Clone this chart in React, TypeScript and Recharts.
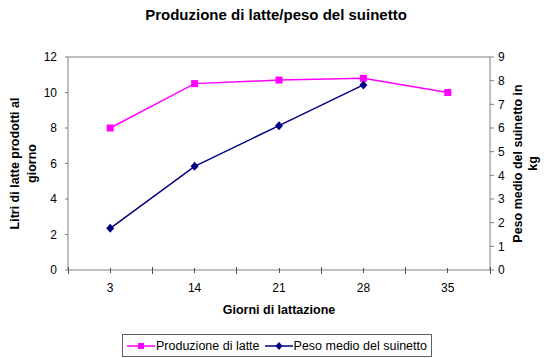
import { LineChart, Line, XAxis, YAxis, Legend, ReferenceLine } from 'recharts';

const giorni = ['3', '14', '21', '28', '35'];
const produzioneLatte = [8, 10.5, 10.7, 10.8, 10];
const pesoSuinetto = [1.76, 4.38, 6.1, 7.82, null];
const ticksLitri = [0, 2, 4, 6, 8, 10, 12];
const ticksPeso = [0, 1, 2, 3, 4, 5, 6, 7, 8, 9];

const data = giorni.map((g, i) => ({
  giorno: g,
  latte: produzioneLatte[i],
  peso: pesoSuinetto[i],
}));

const font = '"Liberation Sans", Arial, sans-serif';
const MAGENTA = '#ff00ff';
const NAVY = '#000080';
const AXIS = '#808080';
const TICK = '#505050';

const PLOT_W = 422;
const HALF_BAND = PLOT_W / giorni.length / 2;

const Square = (props: any) => {
  const { cx, cy, index } = props;
  if (cx == null || cy == null) return <g key={index} />;
  return <rect key={index} x={cx - 3.5} y={cy - 3.5} width={7} height={7} fill={MAGENTA} />;
};

const Diamond = (props: any) => {
  const { cx, cy, index, value } = props;
  if (cx == null || cy == null || value == null) return <g key={index} />;
  return (
    <polygon
      key={index}
      points={`${cx},${cy - 4.5} ${cx + 4},${cy} ${cx},${cy + 4.5} ${cx - 4},${cy}`}
      fill={NAVY}
    />
  );
};

// Excel puts tick marks both on the categories and between them
const GiornoTick = (props: any) => {
  const { x, y, payload, index } = props;
  return (
    <g shapeRendering="crispEdges">
      <line x1={x} x2={x} y1={y - 2} y2={y + 3} stroke={TICK} />
      <line x1={x - HALF_BAND} x2={x - HALF_BAND} y1={y - 3} y2={y + 4} stroke={TICK} />
      {index === giorni.length - 1 && (
        <line x1={x + HALF_BAND} x2={x + HALF_BAND} y1={y - 3} y2={y + 4} stroke={TICK} />
      )}
      <text x={x} y={y} dy={22} textAnchor="middle" fontSize={12} fontFamily={font} fill="#000">
        {payload.value}
      </text>
    </g>
  );
};

const titleStyle = { textAnchor: 'middle' as const, fontSize: 12.5, fontWeight: 'bold', fontFamily: font, fill: '#000' };

const LeftTitle = (props: any) => {
  const { viewBox } = props;
  const cy = viewBox.y + viewBox.height / 2;
  const x1 = viewBox.x + 15;
  const x2 = viewBox.x + 32;
  return (
    <g>
      <text x={x1} y={cy} dy={4} transform={`rotate(-90 ${x1} ${cy})`} {...titleStyle}>
        Litri di latte prodotti al
      </text>
      <text x={x2} y={cy} dy={4} transform={`rotate(-90 ${x2} ${cy})`} {...titleStyle}>
        giorno
      </text>
    </g>
  );
};

const RightTitle = (props: any) => {
  const { viewBox } = props;
  const cy = viewBox.y + viewBox.height / 2;
  const x1 = viewBox.x + 28;
  const x2 = viewBox.x + 43;
  return (
    <g>
      <text x={x1} y={cy} dy={4} transform={`rotate(-90 ${x1} ${cy})`} {...titleStyle}>
        Peso medio del suinetto in
      </text>
      <text x={x2} y={cy} dy={4} transform={`rotate(-90 ${x2} ${cy})`} {...titleStyle}>
        kg
      </text>
    </g>
  );
};

const LegendBox = () => (
  <div
    style={{
      border: '1px solid #606060',
      display: 'flex',
      alignItems: 'center',
      boxSizing: 'border-box',
      width: 310,
      height: 23,
      padding: '0 4px',
      fontFamily: font,
      fontSize: 12.5,
      color: '#000',
      background: '#fff',
      whiteSpace: 'nowrap',
    }}
  >
    <svg width={28} height={10}>
      <line x1={0} x2={28} y1={5} y2={5} stroke={MAGENTA} strokeWidth={1.5} />
      <rect x={11} y={2} width={6} height={6} fill={MAGENTA} />
    </svg>
    <span style={{ marginLeft: 1, marginRight: 5 }}>Produzione di latte</span>
    <svg width={28} height={10}>
      <line x1={0} x2={28} y1={5} y2={5} stroke={NAVY} strokeWidth={1.5} />
      <polygon points="14,1 17.5,5 14,9 10.5,5" fill={NAVY} />
    </svg>
    <span style={{ marginLeft: 1 }}>Peso medio del suinetto</span>
  </div>
);

export default function App() {
  return (
    <div style={{ position: 'absolute', left: 0, top: 0, width: 550, height: 358, background: '#fff' }}>
      <div
        style={{
          position: 'absolute',
          top: 6,
          left: 0,
          width: 552,
          textAlign: 'center',
          fontFamily: font,
          fontWeight: 'bold',
          fontSize: 15,
          color: '#000',
        }}
      >
        Produzione di latte/peso del suinetto
      </div>
      <LineChart width={550} height={358} data={data} margin={{ top: 57, right: 0, bottom: 0, left: 0 }}>
        <XAxis
          dataKey="giorno"
          height={88}
          padding={{ left: HALF_BAND, right: HALF_BAND }}
          axisLine={{ stroke: AXIS }}
          tickLine={false}
          tickSize={0}
          tickMargin={0}
          tick={<GiornoTick />}
          interval={0}
          label={{
            value: 'Giorni di lattazione',
            position: 'insideTop',
            offset: 35,
            fontSize: 12.5,
            fontWeight: 'bold',
            fontFamily: font,
            fill: '#000',
          }}
        />
        <YAxis
          yAxisId="left"
          width={68}
          domain={[0, 12]}
          ticks={ticksLitri}
          interval={0}
          axisLine={{ stroke: AXIS }}
          tickLine={{ stroke: AXIS }}
          tickSize={3}
          tickMargin={8}
          tick={{ fontSize: 12, fontFamily: font, fill: '#000' }}
          label={<LeftTitle />}
        />
        <YAxis
          yAxisId="right"
          orientation="right"
          width={60}
          domain={[0, 9]}
          ticks={ticksPeso}
          interval={0}
          axisLine={{ stroke: AXIS }}
          tickLine={{ stroke: AXIS }}
          tickSize={4}
          tickMargin={4}
          tick={{ fontSize: 12, fontFamily: font, fill: '#000' }}
          label={<RightTitle />}
        />
        <ReferenceLine yAxisId="left" y={12} stroke={AXIS} />
        <Line
          yAxisId="left"
          type="linear"
          dataKey="latte"
          name="Produzione di latte"
          stroke={MAGENTA}
          strokeWidth={1.5}
          dot={Square}
          activeDot={false}
          isAnimationActive={false}
        />
        <Line
          yAxisId="right"
          type="linear"
          dataKey="peso"
          name="Peso medio del suinetto"
          stroke={NAVY}
          strokeWidth={1.5}
          dot={Diamond}
          activeDot={false}
          isAnimationActive={false}
        />
        <Legend
          layout="horizontal"
          verticalAlign="middle"
          align="center"
          content={<LegendBox />}
          wrapperStyle={{ top: 334, left: 122, width: 'auto' }}
        />
      </LineChart>
    </div>
  );
}
